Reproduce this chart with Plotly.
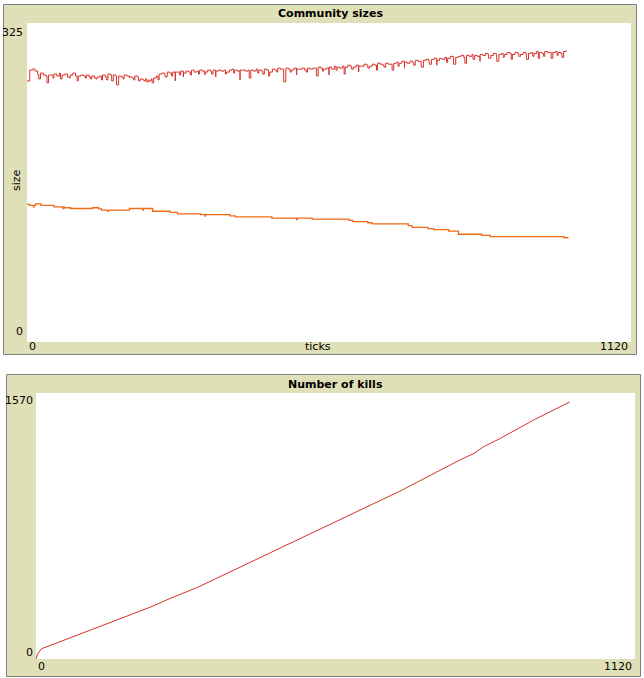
import plotly.graph_objects as go

W, H = 644, 678

# ---------------- data ----------------
red_ticks = list(range(0, 1001, 5))
red_sizes = [
    266, 277, 278, 276, 272, 274, 272, 271, 272, 272,
    273, 271, 274, 272, 273, 270, 272, 274, 271, 271,
    272, 271, 272, 270, 271, 269, 270, 271, 272, 270,
    273, 272, 272, 271, 271, 270, 272, 271, 270, 269,
    271, 270, 268, 267, 268, 267, 268, 269, 271, 273,
    274, 273, 275, 274, 275, 275, 275, 276, 274, 276,
    275, 277, 275, 276, 277, 276, 275, 277, 276, 277,
    276, 277, 276, 277, 275, 277, 278, 277, 276, 277,
    277, 276, 277, 277, 276, 278, 277, 276, 278, 277,
    275, 278, 277, 279, 278, 278, 279, 278, 277, 279,
    278, 278, 279, 277, 279, 278, 279, 279, 280, 279,
    278, 279, 280, 278, 281, 280, 279, 281, 280, 282,
    281, 280, 282, 281, 281, 283, 282, 281, 283, 282,
    284, 283, 282, 284, 283, 283, 284, 285, 284, 286,
    285, 284, 286, 285, 287, 286, 286, 287, 288, 286,
    288, 289, 287, 289, 288, 290, 289, 291, 290, 290,
    291, 292, 290, 292, 291, 293, 292, 291, 293, 292,
    294, 293, 292, 294, 293, 293, 294, 293, 295, 294,
    293, 295, 294, 293, 295, 294, 294, 295, 294, 296,
    295, 294, 296, 295, 295, 295, 296, 295, 294, 296,
    297,
]
# one-tick downward spikes of the red series
red_dip_ticks = [22, 37, 48, 62, 78, 93, 108, 118, 128, 138, 148, 157, 166, 178, 190, 198, 207,
                 217, 222, 226, 232, 243, 256, 268, 275, 283, 290, 303, 318, 330, 342, 350, 368,
                 383, 395, 412, 428, 437, 448, 463, 476, 488, 500, 518, 537, 548, 560, 573, 588,
                 602, 615, 632, 648, 662, 677, 688, 700, 717, 731, 746, 760, 778, 791, 812, 827,
                 840, 856, 871, 883, 898, 912, 926, 938, 948, 958, 972, 983, 992]
red_dip_sizes = [268, 264, 269, 268, 269, 266, 269, 268, 268, 267, 267, 266, 262, 268, 269, 267, 266,
                 266, 265, 266, 264, 267, 270, 271, 266, 272, 270, 272, 273, 272, 273, 270, 273,
                 274, 267, 269, 274, 273, 271, 275, 265, 275, 272, 275, 271, 276, 272, 277, 273,
                 278, 275, 279, 277, 280, 277, 281, 279, 282, 280, 283, 282, 285, 283, 284, 288,
                 286, 289, 286, 290, 288, 291, 288, 291, 289, 291, 289, 292, 290]

orange_ticks = [0, 5, 12, 13, 16, 26, 50, 67, 68, 69, 81, 121, 133, 138, 150, 151,
                190, 215, 216, 233, 265, 279, 322, 330, 331, 376, 386, 454, 500, 501,
                529, 597, 604, 632, 640, 707, 714, 743, 754, 782, 800, 843, 859, 996, 1004]
orange_sizes = [140.3, 139.1, 137.5, 139.1, 140.7, 139.1, 137.6, 135.8, 137.6, 136.8, 136.0, 136.8, 135.6, 134.4, 133.0, 134.4,
                136.0, 134.5, 136.0, 133.2, 132.1, 130.5, 129.7, 128.3, 129.7, 128.5, 127.4, 126.2, 124.8, 126.2,
                125.1, 124.0, 122.7, 121.5, 120.4, 118.5, 116.8, 115.6, 114.5, 113.0, 109.8, 108.6, 107.4, 106.2, 106.2]

kill_ticks = [0, 3, 10, 60, 120, 170, 213, 235, 245, 300, 400, 493, 587, 680, 793, 820, 835, 867, 930, 998]
kill_counts = [0, 30, 60, 120, 195, 255, 305, 335, 350, 420, 570, 705, 850, 990, 1175, 1215, 1250, 1300, 1410, 1517]

x_range = [0, 1120]
y1_range = [0, 325]
y2_range = [0, 1570]

RED = "rgb(215,50,41)"
ORANGE = "rgb(241,106,21)"
BEIGE = "rgb(224,224,184)"
FONT = "DejaVu Sans"

# merge base samples and spikes, ordered by tick
red_pts = sorted(zip(red_ticks + red_dip_ticks, red_sizes + red_dip_sizes))
red_x = [p[0] for p in red_pts]
red_y = [p[1] for p in red_pts]


def px(x):
    return x / W


def py(y):
    return 1 - y / H


fig = go.Figure()
fig.add_trace(go.Scatter(x=red_x, y=red_y, mode="lines",
                         line=dict(color=RED, width=1, shape="hv"), xaxis="x", yaxis="y",
                         hoverinfo="skip"))
fig.add_trace(go.Scatter(x=orange_ticks, y=orange_sizes, mode="lines",
                         line=dict(color=ORANGE, width=1.3, shape="hv"), xaxis="x", yaxis="y",
                         hoverinfo="skip"))
fig.add_trace(go.Scatter(x=kill_ticks, y=kill_counts, mode="lines",
                         line=dict(color=RED, width=1), xaxis="x2", yaxis="y2",
                         hoverinfo="skip"))

ax = dict(showgrid=False, zeroline=False, showticklabels=False, showline=False,
          ticks="", fixedrange=True)

shapes = []
# panel 1
shapes.append(dict(type="rect", xref="paper", yref="paper", layer="below",
                   x0=px(3.5), x1=px(636.5), y0=py(354.5), y1=py(4.5),
                   fillcolor=BEIGE, line=dict(color="rgb(128,128,128)", width=1)))
shapes.append(dict(type="rect", xref="paper", yref="paper", layer="below",
                   x0=px(27), x1=px(631), y0=py(342), y1=py(23),
                   fillcolor="white", line=dict(width=0)))
# panel 2
shapes.append(dict(type="rect", xref="paper", yref="paper", layer="below",
                   x0=px(6.5), x1=px(640.5), y0=py(676.5), y1=py(374.5),
                   fillcolor=BEIGE, line=dict(color="rgb(128,128,128)", width=1)))
shapes.append(dict(type="rect", xref="paper", yref="paper", layer="below",
                   x0=px(36), x1=px(635), y0=py(659), y1=py(393),
                   fillcolor="white", line=dict(width=0)))


def ann(text, x, y, xanchor="center", yanchor="middle", bold=False, angle=0):
    return dict(text=("<b>%s</b>" % text) if bold else text, x=px(x), y=py(y),
                xref="paper", yref="paper", xanchor=xanchor, yanchor=yanchor,
                showarrow=False, textangle=angle,
                font=dict(family=FONT, size=11, color="black"))


annotations = [
    ann("Community sizes", 330, 14, bold=True),
    ann(str(y1_range[1]), 25, 32, xanchor="right"),
    ann(str(y1_range[0]), 25, 331, xanchor="right"),
    ann(str(x_range[0]), 27, 346, xanchor="left"),
    ann(str(x_range[1]), 630, 346, xanchor="right"),
    ann("ticks", 318, 346),
    ann("size", 17, 180, angle=-90),
    ann("Number of kills", 335, 385, bold=True),
    ann(str(y2_range[1]), 35, 401, xanchor="right"),
    ann(str(y2_range[0]), 35, 652, xanchor="right"),
    ann(str(x_range[0]), 36, 666, xanchor="left"),
    ann(str(x_range[1]), 634, 666, xanchor="right"),
]

fig.update_layout(
    width=W, height=H, autosize=False,
    margin=dict(l=0, r=0, t=0, b=0, pad=0),
    paper_bgcolor="white", plot_bgcolor="rgba(0,0,0,0)",
    showlegend=False,
    xaxis=dict(ax, domain=[px(27), px(631)], range=x_range, anchor="y"),
    yaxis=dict(ax, domain=[py(342), py(23)], range=y1_range, anchor="x"),
    xaxis2=dict(ax, domain=[px(36), px(635)], range=x_range, anchor="y2"),
    yaxis2=dict(ax, domain=[py(659), py(393)], range=y2_range, anchor="x2"),
    shapes=shapes,
    annotations=annotations,
)

fig.write_html("out.html", config={"displayModeBar": False},
               post_script="document.body.style.margin='0px';document.body.style.overflow='hidden';")
